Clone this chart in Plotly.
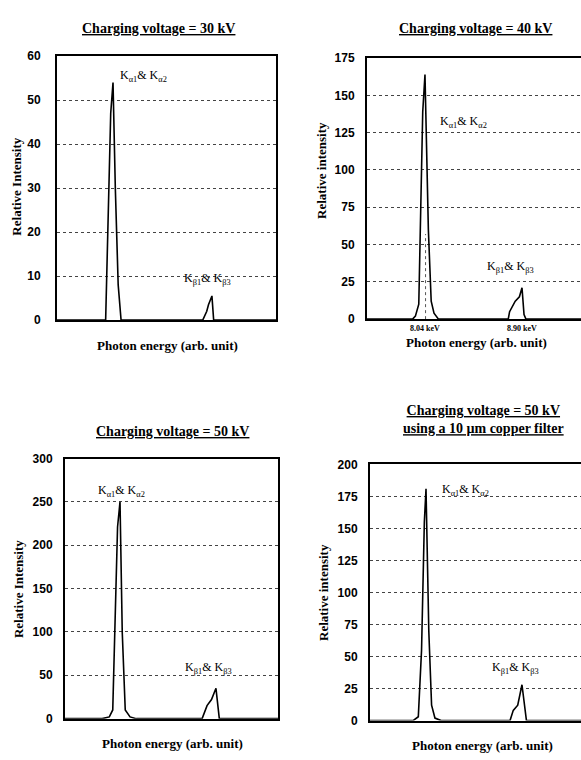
import plotly.graph_objects as go

# ---- data (energy in keV, relative intensity) ----
energy_30kv = [7.55, 7.976, 8.02, 8.04, 8.06, 8.085, 8.11, 8.82, 8.855, 8.87, 8.90, 8.915, 9.46]
intensity_30kv = [0, 0, 47, 54, 30, 8, 0, 0, 2, 3.5, 5.5, 0, 0]

energy_40kv = [7.52, 7.93, 7.955, 7.985, 8.02, 8.04, 8.07, 8.095, 8.12, 8.16,
               8.778, 8.79, 8.84, 8.877, 8.90, 8.918, 8.935, 9.43]
intensity_40kv = [0, 0, 2, 10, 139, 164, 60, 12, 4, 0, 0, 5, 12, 15, 21, 3, 0, 0]
marker_40kv_x = [8.045, 8.045]
marker_40kv_y = [0, 57]

energy_50kv = [7.54, 7.88, 7.944, 7.975, 8.018, 8.04, 8.06, 8.087, 8.13, 8.186,
               8.776, 8.82, 8.86, 8.90, 8.93, 9.46]
intensity_50kv = [0, 0, 2, 10, 221, 250, 100, 10, 2, 0, 0, 15, 22, 35, 0, 0]

energy_50kv_cu = [7.53, 7.924, 7.971, 7.986, 8.0, 8.025, 8.04, 8.065, 8.09, 8.12, 8.175,
                  8.793, 8.822, 8.862, 8.90, 8.94, 9.43]
intensity_50kv_cu = [0, 0, 3, 25, 55, 155, 181, 70, 12, 2, 0, 0, 8, 12, 28, 0, 0]

panel_titles = ["Charging voltage = 30 kV", "Charging voltage = 40 kV",
                "Charging voltage = 50 kV",
                "Charging voltage = 50 kV<br>using a 10 \u00b5m copper filter"]
y_titles = ["Relative Intensity", "Relative intensity", "Relative Intensity", "Relative intensity"]
x_title = "Photon energy (arb. unit)"
y_ranges = [[0, 60], [0, 175], [0, 300], [0, 200]]
y_dticks = [10, 25, 50, 25]
x_ranges = [[7.553, 9.457], [7.526, 9.423], [7.547, 9.456], [7.538, 9.429]]
tick40_vals = [8.04, 8.90]
tick40_text = ["8.04 keV", "8.90 keV"]

alpha_label = "K<sub>\u03b11</sub>& K<sub>\u03b12</sub>"
beta_label = "K<sub>\u03b21</sub>& K<sub>\u03b23</sub>"
alpha_pos = [(8.083, 55.5), (8.153, 132), (7.825, 262), (8.165, 180)]
beta_pos = [(8.64, 9.4), (8.572, 35), (8.601, 58.5), (8.613, 41)]

W, H = 581, 760
# pixel boxes: (x0, x1, y_top, y_bottom)
boxes = [(57, 276, 50, 319), (367, 581, 52, 318), (65, 278, 460, 725), (370, 581, 466, 727)]

series = [(energy_30kv, intensity_30kv), (energy_40kv, intensity_40kv),
          (energy_50kv, intensity_50kv), (energy_50kv_cu, intensity_50kv_cu)]

fig = go.Figure()
serif = "Liberation Serif"
layout = dict(width=W, height=H, margin=dict(l=0, r=0, t=0, b=0),
              paper_bgcolor="white", plot_bgcolor="white", showlegend=False)
annotations = []

for i, (box, (ex, iy)) in enumerate(zip(boxes, series)):
    n = "" if i == 0 else str(i + 1)
    x0, x1, yt, yb = box
    xa = dict(domain=[x0 / W, min(x1 / W, 1.0)], range=x_ranges[i], showgrid=False,
              showline=True, linecolor="black", linewidth=2, mirror=True,
              zeroline=False, anchor="y" + n, ticks="")
    if i == 1:
        xa.update(tickvals=tick40_vals, ticktext=tick40_text,
                  tickfont=dict(family=serif, size=8, color="black", weight="bold"))
    else:
        xa.update(showticklabels=False)
    ya = dict(domain=[1 - yb / H, 1 - yt / H], range=y_ranges[i], dtick=y_dticks[i],
              showgrid=True, gridcolor="#444444", griddash="dot", gridwidth=1,
              showline=True, linecolor="black", linewidth=2,
              mirror=(i in (0, 2)), zeroline=False, anchor="x" + n, ticks="",
              ticklabelstandoff=12 if i == 0 else 8,
              tickfont=dict(family="Liberation Sans", size=12, color="black", weight="bold"))
    layout["xaxis" + n] = xa
    layout["yaxis" + n] = ya

    fig.add_trace(go.Scatter(x=ex, y=iy, mode="lines", line=dict(color="black", width=1.6),
                             xaxis="x" + n, yaxis="y" + n, hoverinfo="skip"))
    if i == 1:
        fig.add_trace(go.Scatter(x=marker_40kv_x, y=marker_40kv_y, mode="lines",
                                 line=dict(color="#555555", width=1, dash="dot"),
                                 xaxis="x" + n, yaxis="y" + n, hoverinfo="skip"))

    annotations.append(dict(x=alpha_pos[i][0], y=alpha_pos[i][1], xref="x" + n, yref="y" + n,
                            text=alpha_label, showarrow=False, xanchor="left", yanchor="middle",
                            font=dict(family=serif, size=12, color="black")))
    annotations.append(dict(x=beta_pos[i][0], y=beta_pos[i][1], xref="x" + n, yref="y" + n,
                            text=beta_label, showarrow=False, xanchor="left", yanchor="middle",
                            font=dict(family=serif, size=12, color="black")))

# titles (pixel-based placement)
title_pos = [(158, 22), (475, 22), (172, 432), (483, 420)]
ytitle_pos = [(17, 183), (322, 167), (18, 593), (323, 597)]
xtitle_pos = [(167, 345), (477, 342), (172, 750), (482, 752)]
for i in range(4):
    tx, ty = title_pos[i]
    lines = panel_titles[i].split("<br>")
    txt = "<br>".join("<u>" + s + "</u>" for s in lines)
    annotations.append(dict(x=tx / W, y=1 - ty / H, xref="paper", yref="paper", text=txt,
                            showarrow=False, xanchor="center", yanchor="middle",
                            font=dict(family=serif, size=14, color="black", weight="bold")))
    ax_, ay_ = ytitle_pos[i]
    annotations.append(dict(x=ax_ / W, y=1 - ay_ / H, xref="paper", yref="paper", text=y_titles[i],
                            showarrow=False, textangle=-90, xanchor="center", yanchor="middle",
                            font=dict(family=serif, size=13, color="black", weight="bold")))
    bx, by = xtitle_pos[i]
    annotations.append(dict(x=bx / W, y=1 - by / H, xref="paper", yref="paper", text=x_title,
                            showarrow=False, xanchor="center", yanchor="middle",
                            font=dict(family=serif, size=13, color="black", weight="bold")))

layout["annotations"] = annotations
fig.update_layout(**layout)
fig.write_html("out.html", config={"displayModeBar": False},
               post_script="document.body.style.margin='0px';document.body.style.overflow='hidden';")
